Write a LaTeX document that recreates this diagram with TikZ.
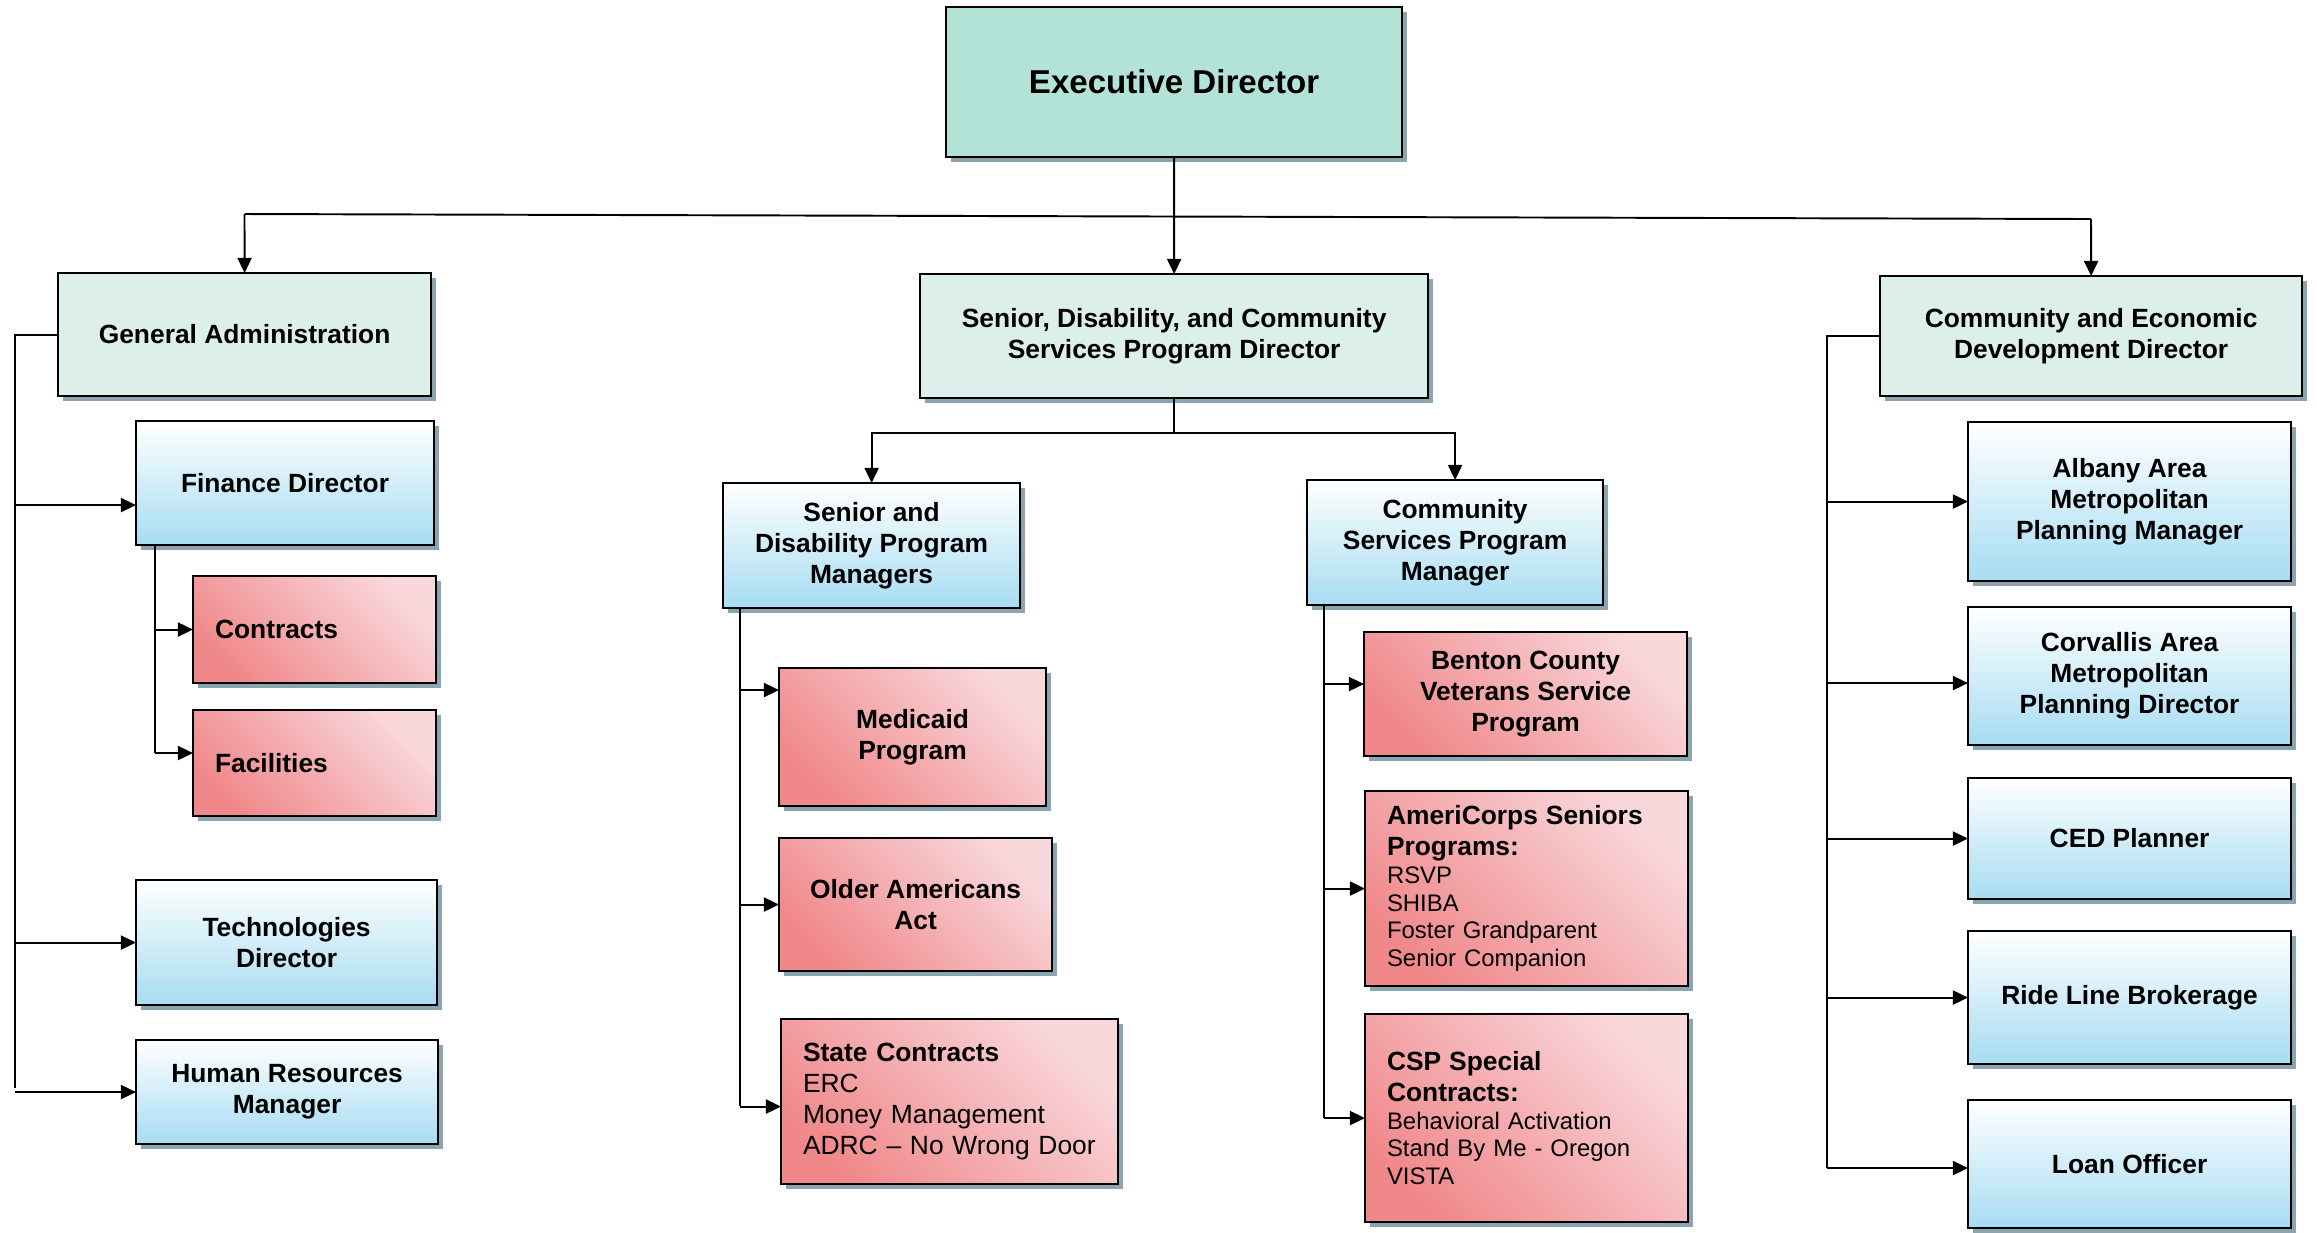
\documentclass[tikz,border=0pt]{standalone}
\usepackage{fontspec}
\setmainfont{Liberation Sans}
\usetikzlibrary{arrows.meta,shadows,calc}
\definecolor{edfill}{RGB}{179,227,215}
\definecolor{ltfill}{RGB}{220,239,234}
\definecolor{bluebot}{RGB}{166,220,242}
\definecolor{redlight}{RGB}{249,216,220}
\definecolor{reddark}{RGB}{240,136,138}
\definecolor{shadowc}{RGB}{138,165,175}
\newcommand{\boxhead}[1]{{\fontsize{7.5pt}{8.8pt}\selectfont\bfseries #1}}
\begin{document}
\begin{tikzpicture}[x=0.01cm,y=-0.01cm,
  box/.style={draw=black, line width=0.6pt, rectangle, inner sep=0pt, outer sep=0pt,
    anchor=north west, align=center,
    drop shadow={shadow xshift=0.045cm, shadow yshift=-0.05cm, fill=shadowc, opacity=1},
    font=\fontsize{7.5pt}{8.8pt}\selectfont\bfseries},
  wh/.style 2 args={minimum width=#1cm, minimum height=#2cm},
  topbox/.style={box, fill=edfill},
  lightbox/.style={box, fill=ltfill},
  bluebox/.style={box, top color=white, bottom color=bluebot},
  redbox/.style={box, top color=redlight, bottom color=reddark, shading angle=-45},
  leftbox/.style={align=left, inner xsep=0.22cm},
  conn/.style={line width=0.55pt},
  arr/.style={conn, -{Triangle[length=4.3pt,width=4pt]}}
]
\fill[white] (0,0) rectangle (2317,1232);
\useasboundingbox (0,0) rectangle (2317,1232);

% top level
\node[topbox, wh={4.56}{1.50}, font=\fontsize{9.4pt}{11pt}\selectfont\bfseries] (ed) at (946,7) {Executive Director};
\node[lightbox, wh={3.73}{1.23}] (ga) at (58,273) {General Administration};
\node[lightbox, wh={5.08}{1.24}] (sd) at (920,274) {Senior, Disability, and Community\\Services Program Director};
\node[lightbox, wh={4.22}{1.20}] (ced) at (1880,276) {Community and Economic\\Development Director};

% general administration branch
\node[bluebox, wh={2.98}{1.24}] (fd) at (136,421) {Finance Director};
\node[redbox, leftbox, wh={2.43}{1.07}, text width=1.99cm] (con) at (193,576) {Contracts};
\node[redbox, leftbox, wh={2.43}{1.06}, text width=1.99cm] (fac) at (193,710) {Facilities};
\node[bluebox, wh={3.01}{1.25}] (tech) at (136,880) {Technologies\\Director};
\node[bluebox, wh={3.02}{1.04}] (hr) at (136,1040) {Human Resources\\Manager};

% senior, disability and community services branch
\node[bluebox, wh={2.97}{1.25}] (sdpm) at (723,483) {Senior and\\Disability Program\\Managers};
\node[bluebox, wh={2.96}{1.25}] (cspm) at (1307,480) {Community\\Services Program\\Manager};
\node[redbox, wh={2.67}{1.38}] (med) at (779,668) {Medicaid\\Program};
\node[redbox, wh={2.73}{1.33}] (oaa) at (779,838) {Older Americans\\Act};
\node[redbox, leftbox, wh={3.37}{1.65}, text width=2.93cm, font=\fontsize{7.5pt}{8.8pt}\selectfont] (sc) at (781,1019)
  {\textbf{State Contracts}\\ERC\\Money Management\\ADRC – No Wrong Door};
\node[redbox, wh={3.23}{1.24}] (ben) at (1364,632) {Benton County\\Veterans Service\\Program};
\node[redbox, leftbox, wh={3.23}{1.95}, text width=2.79cm, font=\fontsize{6.8pt}{7.9pt}\selectfont] (ame) at (1365,791)
  {\boxhead{AmeriCorps Seniors}\\[0.9pt]\boxhead{Programs:}\\RSVP\\SHIBA\\Foster Grandparent\\Senior Companion};
\node[redbox, leftbox, wh={3.23}{2.08}, text width=2.79cm, font=\fontsize{6.8pt}{7.9pt}\selectfont] (csp) at (1365,1014)
  {\boxhead{CSP Special}\\[0.9pt]\boxhead{Contracts:}\\Behavioral Activation\\Stand By Me - Oregon\\VISTA};

% community and economic development branch
\node[bluebox, wh={3.23}{1.59}] (alb) at (1968,422) {Albany Area\\Metropolitan\\Planning Manager};
\node[bluebox, wh={3.23}{1.38}] (cor) at (1968,607) {Corvallis Area\\Metropolitan\\Planning Director};
\node[bluebox, wh={3.23}{1.21}] (cedp) at (1968,778) {CED Planner};
\node[bluebox, wh={3.23}{1.33}] (ride) at (1968,931) {Ride Line Brokerage};
\node[bluebox, wh={3.23}{1.28}] (loan) at (1968,1100) {Loan Officer};

% top connectors
\coordinate (barL) at (244.5,214);
\coordinate (barR) at (2091,219);
\draw[conn] (barL) -- (barR);
\draw[arr] (barL) -- (ga.north);
\draw[arr] (barR) -- (ced.north);
\draw[arr] (ed.south) -- (sd.north);
\draw[arr] (sd.south) -- ++(0,35) -| (sdpm.north);
\draw[arr] (sd.south) -- ++(0,35) -| (cspm.north);

% general administration trunk
\coordinate (gaT) at (15,1088);
\coordinate (fdin) at ($(fd.west)+(0,22)$);
\draw[conn] (ga.west) -| (gaT);
\draw[arr] (gaT |- fdin) -- (fdin);
\draw[arr] (gaT |- tech.west) -- (tech.west);
\draw[arr] (gaT |- hr.west) -- (hr.west);

% finance trunk
\coordinate (fdT) at (155,753);
\coordinate (facin) at ($(fac.west)+(0,-10)$);
\draw[conn] (fdT |- fd.south) -- (fdT);
\draw[arr] (fdT |- con.west) -- (con.west);
\draw[arr] (fdT |- facin) -- (facin);

% senior and disability trunk
\coordinate (sdT) at (740,1106);
\coordinate (medin) at ($(med.west)+(0,-47)$);
\coordinate (scin) at ($(sc.west)+(0,5)$);
\draw[conn] (sdT |- sdpm.south) -- (sdT);
\draw[arr] (sdT |- medin) -- (medin);
\draw[arr] (sdT |- oaa.west) -- (oaa.west);
\draw[arr] (sdT |- scin) -- (scin);

% community services trunk
\coordinate (csT) at (1324,1118);
\coordinate (benin) at ($(ben.west)+(0,-10)$);
\draw[conn] (csT |- cspm.south) -- (csT);
\draw[arr] (csT |- benin) -- (benin);
\draw[arr] (csT |- ame.west) -- (ame.west);
\draw[arr] (csT |- csp.west) -- (csp.west);

% CED trunk
\coordinate (cedT) at (1827,1168);
\coordinate (corin) at ($(cor.west)+(0,7)$);
\coordinate (loanin) at ($(loan.west)+(0,4)$);
\draw[conn] (ced.west) -| (cedT);
\draw[arr] (cedT |- alb.west) -- (alb.west);
\draw[arr] (cedT |- corin) -- (corin);
\draw[arr] (cedT |- cedp.west) -- (cedp.west);
\draw[arr] (cedT |- ride.west) -- (ride.west);
\draw[arr] (cedT |- loanin) -- (loanin);
\end{tikzpicture}
\end{document}
